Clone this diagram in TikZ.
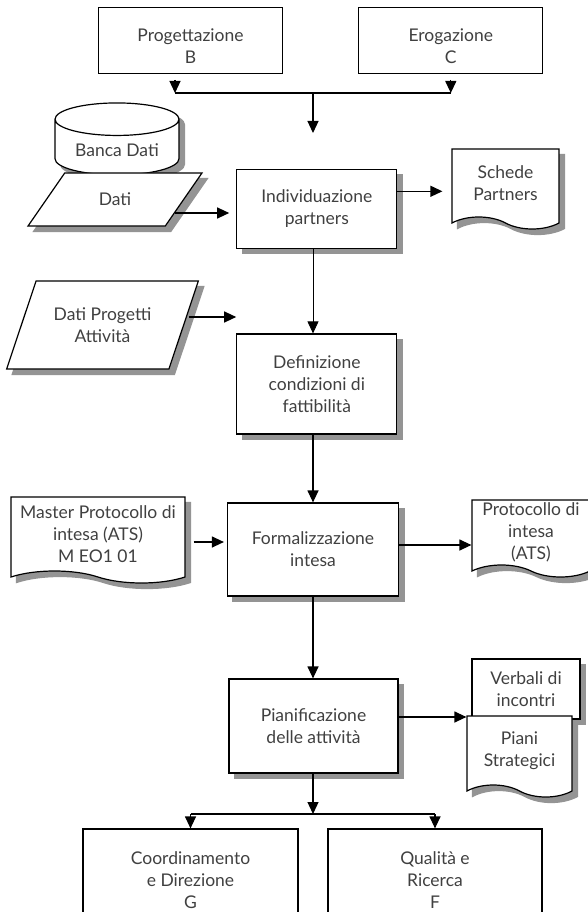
\documentclass[tikz,border=0pt]{standalone}
\usepackage{fontspec}
\setmainfont{Lato}
\usetikzlibrary{arrows.meta,positioning,calc,shapes.geometric,shapes.symbols}
\tikzset{
    label text/.style = {
        font = \fontsize{17.5}{22}\selectfont,
        text = black!75,
        align = center,
        },
    shadowed/.style = {
        preaction = {
            fill = black!42,
            draw = black!42,
            transform canvas = {shift={(5.5pt,-5.5pt)}},
            },
        },
    outline/.style = {
        draw,
        fill = white,
        line width = 1.2pt,
        },
    dept/.style = {
        outline, label text,
        minimum width = 184pt,
        minimum height = 66pt,
        },
    task/.style = {
        outline, shadowed, label text,
        minimum width = 160pt,
        },
    paper/.style = {
        outline, shadowed, label text,
        tape,
        tape bend top = none,
        tape bend bottom = out and in,
        tape bend height = 12pt,
        inner sep = 1pt,
        },
    input/.style = {
        outline, shadowed, label text,
        trapezium,
        trapezium stretches = true,
        },
    archive/.style = {
        outline, shadowed, label text,
        cylinder,
        shape border rotate = 90,
        aspect = 0.36,
        },
    flow/.style = {
        line width = 1.2pt,
        -{Triangle[length=12pt, width=11pt]},
        },
    bar/.style = {
        line width = 1.2pt,
        },
}

\begin{document}
\begin{tikzpicture}[x=1pt, y=-1pt]
    \useasboundingbox[fill=white] (0,0) rectangle (587,912);

    % uffici a monte
    \node[dept] (prog) at (190.5,40.3) {\rule{0pt}{25pt}Progettazione\\B};
    \node[dept] (erog) at (450.8,40.3) {\rule{0pt}{25pt}Erogazione\\C};

    % catena centrale
    \node[task, minimum height=79pt] (indiv) at (316.8,208.8) {Individuazione\\partners};
    \node[task, minimum height=100pt, below=84.5pt of indiv] (defin) {Definizione\\condizioni di\\fattibilità};
    \node[task, minimum width=171pt, minimum height=93pt] (formal) at (313,549.5) {Formalizzazione\\intesa};
    \node[task, minimum width=169pt, minimum height=94pt] (pianif) at (313.5,726) {Pianificazione\\delle attività};

    % ingressi
    \node[archive, minimum width=124pt, minimum height=72pt] (banca) at (117,150) {Banca Dati};
    \node[input, trapezium left angle=54, trapezium right angle=126, minimum width=175pt, minimum height=53pt] (dati) at (115,199.5) {Dati};
    \node[input, trapezium left angle=61, trapezium right angle=119, minimum width=192pt, minimum height=88pt] (dprog) at (102.5,325) {Dati Progetti\\Attività};
    \node[paper, minimum width=174pt, minimum height=86pt] (master) at (98,534) {Master Protocollo di\\intesa (ATS)\\M EO1 01};

    % documenti prodotti
    \node[paper, minimum width=107pt, minimum height=80pt] (schede) at (505.5,183) {Schede\\Partners};
    \node[paper, minimum width=118pt, minimum height=77pt] (proto) at (531,532.5) {Protocollo di\\intesa\\(ATS)};
    \node[task, minimum width=108pt, minimum height=60pt] (verbali) at (526,689) {Verbali di\\incontri};
    \node[paper, minimum width=105pt, minimum height=81pt] (piani) at (519.5,750.5) {Piani\\Strategici};

    % uffici a valle
    \node[dept, minimum width=215pt, minimum height=102pt] (coord) at (190.5,880) {Coordinamento\\e Direzione\\G};
    \node[dept, minimum width=214pt, minimum height=102pt] (qual) at (435,880) {Qualità e\\Ricerca\\F};

    % connessioni
    \coordinate (join) at (313,93);
    \coordinate (arrive) at (313,133);
    \coordinate (fork) at (313,814);

    \draw[flow, shorten <=6pt] ([xshift=-15.5pt]prog.south) -- ([xshift=-15.5pt]prog.south |- join);
    \draw[flow, shorten <=6pt] (erog.south) -- (erog.south |- join);
    \draw[bar] ([xshift=-15.5pt]prog.south |- join) -- (erog.south |- join);
    \draw[flow] (join) -- (arrive);

    \coordinate (dati out) at ([shift={(-9pt,-13.5pt)}]dati.east);
    \draw[flow, shorten >=7pt] (dati out) -- (dati out -| indiv.west);
    \draw[flow, shorten >=9pt] ([yshift=17.5pt]indiv.east) -- ([yshift=17.5pt]indiv.east -| schede.west);
    \draw[flow, line width=0.8pt] (indiv.south -| join) -- (defin.north -| join);

    \coordinate (dprog out) at ([shift={(5pt,8pt)}]dprog.east);
    \draw[flow] (dprog out) -- (dprog out -| defin.west);
    \draw[flow] (defin.south -| join) -- (formal.north -| join);

    \draw[flow, shorten <=8pt, shorten >=3pt] ([yshift=-8pt]master.east) -- ([yshift=-8pt]master.east -| formal.west);
    \draw[flow] ([yshift=4.5pt]formal.east) -- ([yshift=4.5pt]formal.east -| proto.west);
    \draw[flow] (formal.south -| join) -- (pianif.north -| join);

    \draw[flow] ([yshift=9pt]pianif.east) -- ([yshift=9pt]pianif.east -| piani.west);
    \draw[flow] (pianif.south -| join) -- (fork);
    \draw[bar] (coord.north |- fork) -- (qual.north |- fork);
    \draw[flow] (coord.north |- fork) -- (coord.north);
    \draw[flow] (qual.north |- fork) -- (qual.north);
\end{tikzpicture}
\end{document}
